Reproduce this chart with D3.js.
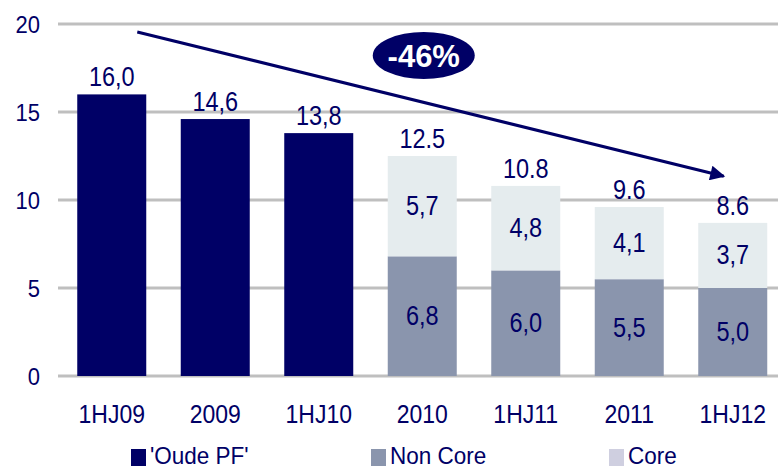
<!DOCTYPE html>
<html>
<head>
<meta charset="utf-8">
<script src="https://cdn.jsdelivr.net/npm/d3@7"></script>
<style>
  body { margin: 0; background: #fff; }
  text { font-family: Arial, "Liberation Sans", sans-serif; fill: #000066; }
</style>
</head>
<body>
<div id="wrapper"></div>
<script>
// data
const categories = ["1HJ09", "2009", "1HJ10", "2010", "1HJ11", "2011", "1HJ12"]
const oudePF  = [16.0, 14.6, 13.8, 0, 0, 0, 0]
const nonCore = [0, 0, 0, 6.8, 6.0, 5.5, 5.0]
const core    = [0, 0, 0, 5.7, 4.8, 4.1, 3.7]
const totalLabels = ["16,0", "14,6", "13,8", "12.5", "10.8", "9.6", "8.6"]
const yTicks = [0, 5, 10, 15, 20]
const seriesNames = ["'Oude PF'", "Non Core", "Core"]
const changeLabel = "-46%"

function drawChart() {
  const width = 778, height = 468
  const colors = { oude: "#000066", nonCore: "#8a95ad", core: "#e5ecee", coreKey: "#cfcfe0", grid: "#bfbfbf" }

  const svg = d3.select("#wrapper").append("svg")
      .attr("width", width)
      .attr("height", height)

  // scales
  const x = d3.scaleBand()
    .domain(categories)
    .range([60, 784.5])
    .paddingInner(1 / 3)
    .paddingOuter(1 / 6)

  const y = d3.scaleLinear()
    .domain([0, 20])
    .range([376, 24])

  // gridlines + y labels
  svg.append("g").selectAll("line")
    .data(yTicks)
    .join("line")
      .attr("x1", 58)
      .attr("x2", width)
      .attr("y1", d => y(d))
      .attr("y2", d => y(d))
      .attr("stroke", colors.grid)
      .attr("stroke-width", 3)

  svg.append("g").selectAll("text")
    .data(yTicks)
    .join("text")
      .attr("text-anchor", "end")
      .attr("font-size", 22)
      .attr("transform", d => `translate(40,${y(d) + 8.5}) scale(1,1.1)`)
      .text(d => d)

  // stacked table
  const rows = categories.map((c, i) => ({ cat: c, oude: oudePF[i], nonCore: nonCore[i], core: core[i] }))
  const stack = d3.stack().keys(["oude", "nonCore", "core"])(rows)

  const fmt = v => v.toFixed(1).replace(".", ",")

  stack.forEach(layer => {
    const key = layer.key
    const g = svg.append("g")
    g.selectAll("rect")
      .data(layer.filter(d => d[1] - d[0] > 0))
      .join("rect")
        .attr("x", d => x(d.data.cat))
        .attr("width", x.bandwidth())
        .attr("y", d => y(d[1]))
        .attr("height", d => y(d[0]) - y(d[1]))
        .attr("fill", colors[key])

    if (key !== "oude") {
      g.selectAll("text")
        .data(layer.filter(d => d[1] - d[0] > 0))
        .join("text")
          .attr("text-anchor", "middle")
          .attr("font-size", 23.5)
          .attr("transform", d => `translate(${x(d.data.cat) + x.bandwidth() / 2},${y((d[0] + d[1]) / 2) + 9}) scale(1,1.16)`)
          .text(d => fmt(d[1] - d[0]))
    }
  })

  // totals above bars
  svg.append("g").selectAll("text")
    .data(rows)
    .join("text")
      .attr("text-anchor", "middle")
      .attr("font-size", 23.5)
      .attr("transform", d => `translate(${x(d.cat) + x.bandwidth() / 2},${y(d.oude + d.nonCore + d.core) - 8}) scale(1,1.16)`)
      .text((d, i) => totalLabels[i])

  // x labels
  svg.append("g").selectAll("text")
    .data(categories)
    .join("text")
      .attr("text-anchor", "middle")
      .attr("font-size", 23)
      .attr("transform", d => `translate(${x(d) + x.bandwidth() / 2},423) scale(1,1.12)`)
      .text(d => d)

  // trend arrow
  svg.append("defs").append("marker")
      .attr("id", "head")
      .attr("viewBox", "0 0 10 10")
      .attr("refX", 9)
      .attr("refY", 5)
      .attr("markerWidth", 6)
      .attr("markerHeight", 5)
      .attr("markerUnits", "strokeWidth")
      .attr("orient", "auto")
    .append("path")
      .attr("d", "M0,0L10,5L0,10Z")
      .attr("fill", colors.oude)

  const x0 = x("1HJ09") + x.step() * 0.58
  const x1 = x("1HJ12") + x.bandwidth() * 0.37
  svg.append("line")
      .attr("x1", x0).attr("y1", y(19.55))
      .attr("x2", x1).attr("y2", y(11.35))
      .attr("stroke", colors.oude)
      .attr("stroke-width", 3)
      .attr("marker-end", "url(#head)")

  // -46% bubble
  const cx = x("2010") + 36
  svg.append("ellipse")
      .attr("cx", cx)
      .attr("cy", 55.5)
      .attr("rx", 51)
      .attr("ry", 23.5)
      .attr("fill", colors.oude)
  svg.append("text")
      .attr("x", cx)
      .attr("y", 67)
      .attr("text-anchor", "middle")
      .attr("font-size", 31)
      .attr("font-weight", "bold")
      .style("fill", "#fff")
      .text(changeLabel)

  // legend
  const legendX = [131, 371, 609]
  const keyColors = [colors.oude, colors.nonCore, colors.coreKey]
  const legend = svg.append("g").selectAll("g")
    .data(seriesNames)
    .join("g")
      .attr("transform", (d, i) => `translate(${legendX[i]},0)`)
  legend.append("rect")
      .attr("x", 0).attr("y", 449)
      .attr("width", 15).attr("height", 17)
      .attr("fill", (d, i) => keyColors[i])
  legend.append("text")
      .attr("font-size", 22.5)
      .attr("transform", "translate(19,464) scale(1,1.08)")
      .text(d => d)
}

drawChart()
</script>
</body>
</html>
